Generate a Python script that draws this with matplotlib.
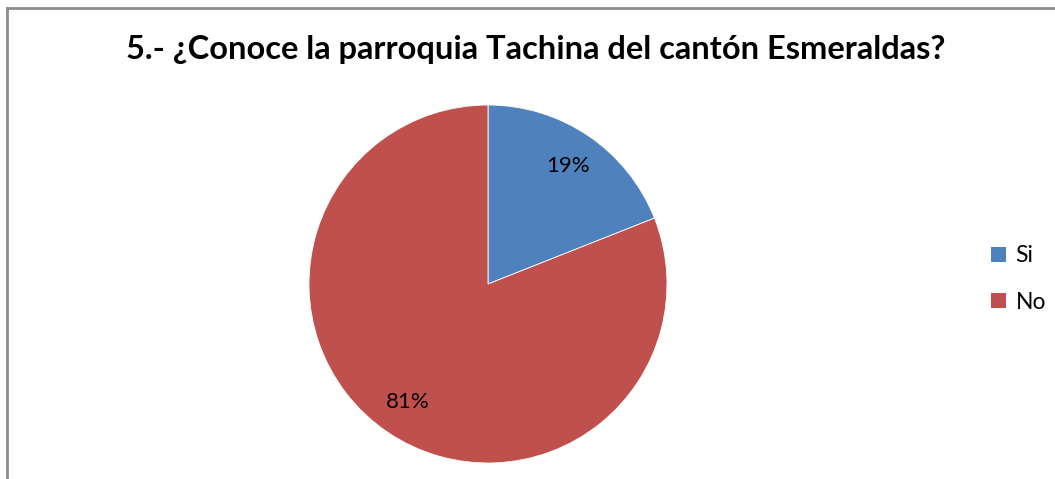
import matplotlib.pyplot as plt
from matplotlib.lines import Line2D
from matplotlib.patches import Patch

plt.rcParams['font.family'] = ['Lato', 'DejaVu Sans']

categories = ['Si', 'No']
percentages = [19, 81]
colors = ['#4F81BD', '#C0504D']
title = '5.- ¿Conoce la parroquia Tachina del cantón Esmeraldas?'

W, H = 1055, 479
fig = plt.figure(figsize=(W / 100, H / 100), dpi=100)
fig.patch.set_facecolor('white')

# chart frame: only the top and left edges show
fig.add_artist(Line2D([7 / W, 1], [1 - 8 / H, 1 - 8 / H], color='#8c8c8c', lw=2))
fig.add_artist(Line2D([7 / W, 7 / W], [0, 1 - 8 / H], color='#8c8c8c', lw=2))

fig.text(536 / W, 1 - 50 / H, title, ha='center', va='center',
         fontsize=23.5, fontweight='bold', color='black')

cx, cy, r = 488, 284, 179
ax = fig.add_axes([(cx - r) / W, (H - cy - r) / H, 2 * r / W, 2 * r / H])
wedges, texts, autotexts = ax.pie(
    percentages, colors=colors, startangle=90, counterclock=False,
    autopct='%d%%', pctdistance=0.8,
    wedgeprops=dict(edgecolor='white', linewidth=0.6),
    textprops=dict(fontsize=16, color='black'))
ax.set_xlim(-1, 1)
ax.set_ylim(-1, 1)
ax.set_aspect('equal')
ax.axis('off')

handles = [Patch(facecolor=c, edgecolor='none') for c in colors]
fig.legend(handles, categories, loc='center left',
           bbox_to_anchor=(980 / W, 1 - 279 / H), frameon=False,
           fontsize=16.5, handlelength=0.65, handleheight=0.65,
           handletextpad=0.4, labelspacing=1.1, borderpad=0)

fig.savefig('out.png', dpi=100)
